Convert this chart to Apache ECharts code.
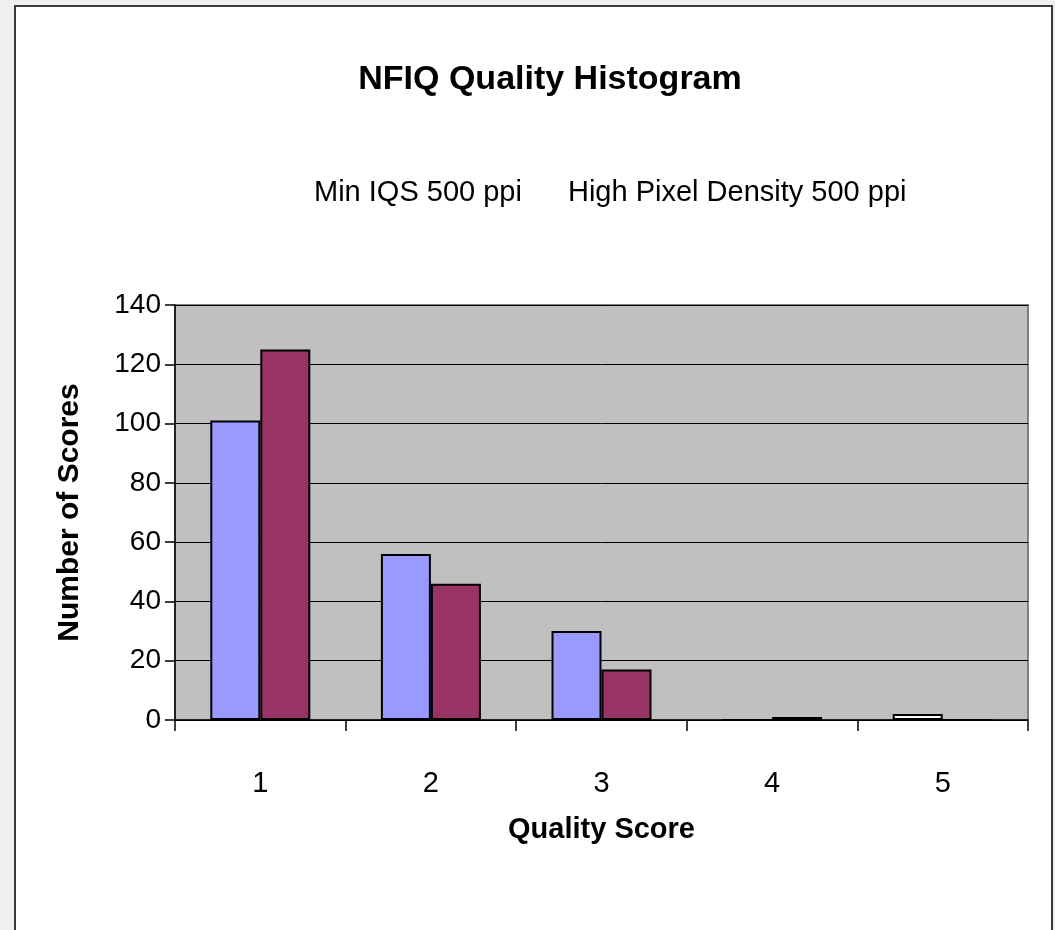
<!DOCTYPE html>
<html>
<head>
<meta charset="utf-8">
<script src="https://cdn.jsdelivr.net/npm/echarts@6/dist/echarts.min.js"></script>
<style>
html,body{margin:0;padding:0;background:#f0f0f0;}
#chart{width:1055px;height:930px;}
</style>
</head>
<body>
<div id="chart"></div>
<script>
var categories = ['1', '2', '3', '4', '5'];
var minIqs = [101, 56, 30, 0, 2];
var highPixel = [125, 46, 17, 1, 0];
var seriesNames = ['Min IQS 500 ppi', 'High Pixel Density 500 ppi'];
var yTicks = [0, 20, 40, 60, 80, 100, 120, 140];

var FONT = "'Liberation Sans', Arial, sans-serif";

var chart = echarts.init(document.getElementById('chart'), null, {renderer: 'canvas'});

var minIqsData = minIqs.map(function (v, i) {
  // the small bar at score 5 is drawn with a white fill in the reference
  return i === 4 ? {value: v, itemStyle: {color: '#FFFFFF'}} : v;
});

var option = {
  backgroundColor: '#f0f0f0',
  animation: false,
  graphic: [{
    type: 'rect',
    z: -10,
    shape: {x: 15, y: 6, width: 1037, height: 940},
    style: {fill: '#ffffff', stroke: '#3a3a3a', lineWidth: 2}
  }],
  title: {
    text: 'NFIQ Quality Histogram',
    left: 545,
    textAlign: 'center',
    top: 58,
    textStyle: {fontFamily: FONT, fontWeight: 'bold', fontSize: 34, color: '#000'}
  },
  legend: {
    data: seriesNames,
    left: 303,
    top: 173,
    itemWidth: 0,
    itemHeight: 0,
    itemGap: 40,
    icon: 'rect',
    textStyle: {fontFamily: FONT, fontSize: 29, color: '#000'}
  },
  grid: {left: 175, right: 27, top: 305, bottom: 210, show: true,
         backgroundColor: '#C0C0C0', borderColor: '#808080', borderWidth: 2},
  xAxis: {
    type: 'category',
    data: categories,
    name: 'Quality Score',
    nameLocation: 'middle',
    nameGap: 95,
    nameTextStyle: {fontFamily: FONT, fontWeight: 'bold', fontSize: 29, color: '#000'},
    axisLine: {lineStyle: {color: '#000', width: 1.5}},
    axisTick: {show: true, length: 11, lineStyle: {color: '#000', width: 1.5}},
    axisLabel: {fontFamily: FONT, fontSize: 29, color: '#000', margin: 49}
  },
  yAxis: {
    type: 'value',
    min: yTicks[0],
    max: yTicks[yTicks.length - 1],
    interval: yTicks[1] - yTicks[0],
    name: 'Number of Scores',
    nameLocation: 'middle',
    nameGap: 90,
    nameRotate: 90,
    nameTextStyle: {fontFamily: FONT, fontWeight: 'bold', fontSize: 30, color: '#000'},
    axisLine: {show: true, lineStyle: {color: '#000', width: 1.5}},
    axisTick: {show: true, length: 10, lineStyle: {color: '#000', width: 1.5}},
    axisLabel: {fontFamily: FONT, fontSize: 28, color: '#000', margin: 14},
    splitLine: {show: true, lineStyle: {color: '#000', width: 1}}
  },
  series: [{
    name: seriesNames[0],
    type: 'bar',
    data: minIqsData,
    barWidth: 50,
    barGap: '0%',
    itemStyle: {color: '#9999FF', borderColor: '#000', borderWidth: 2}
  }, {
    name: seriesNames[1],
    type: 'bar',
    data: highPixel,
    barWidth: 50,
    barGap: '0%',
    itemStyle: {color: '#993366', borderColor: '#000', borderWidth: 2}
  }]
};
chart.setOption(option);
</script>
</body>
</html>
